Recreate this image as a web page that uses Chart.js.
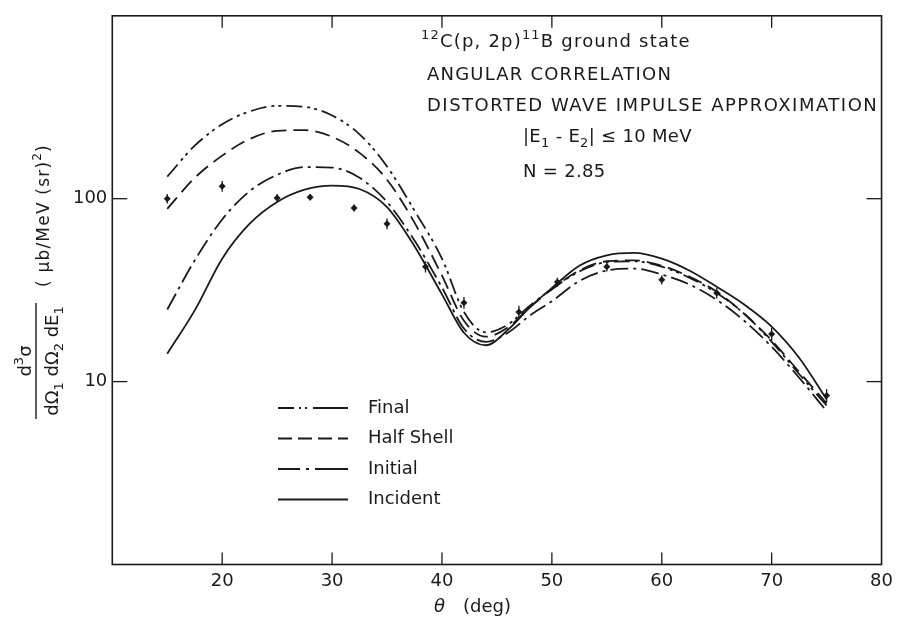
<!DOCTYPE html>
<html>
<head>
<meta charset="utf-8">
<script src="https://cdn.jsdelivr.net/npm/chart.js@4.4.1/dist/chart.umd.min.js"></script>
<style>
  html, body { margin: 0; padding: 0; background: #fff; }
  canvas { display: block; }
</style>
</head>
<body>
<canvas id="dwiaChart" width="899" height="620"></canvas>
<script>
// angles (deg) at which the DWIA curves are sampled
const thetaCurve = [15, 17.5, 20, 22.5, 25, 27.5, 30, 32.5, 35, 37.5, 40, 42, 44, 46, 48, 50, 52.5, 55, 57.5, 60, 62.5, 65, 67.5, 70, 72.5, 75];
const finalDist = [132, 195, 255, 300, 322, 318, 285, 225, 150, 86, 47, 24, 18.6, 20.5, 26, 32, 40, 45, 45.5, 42.5, 37, 30.5, 23.5, 16.5, 11, 7.4];
const halfShell = [88, 130, 172, 212, 235, 237, 218, 178, 127, 74, 38, 21.5, 17.6, 19.8, 25.5, 32, 40.5, 45.5, 46, 43, 37.5, 31, 23.5, 16.8, 11.3, 7.6];
const initialDist = [24.8, 46, 77, 110, 135, 149, 148, 130, 96, 59, 32.7, 19.5, 16.5, 18.5, 23, 27.5, 35.5, 40.5, 41.5, 38.5, 34, 28, 21.5, 15.5, 10.5, 6.9];
const incident = [14.2, 24.5, 47, 73, 96, 112, 118, 113, 90, 55, 30, 18.5, 15.8, 19.2, 25.5, 32.5, 43, 49, 50.5, 47, 40.5, 33, 26.4, 20, 13.5, 8.0];

// measured points with their errors
const thetaExp = [15, 20, 25, 28, 32, 35, 38.5, 42, 47, 50.5, 55, 60, 65, 70, 75];
const sigmaExp = [100, 117, 101, 102, 89, 73, 42.5, 27, 24, 35, 42.5, 36, 30.5, 18.2, 8.4];
const sigmaErr = [6, 8, 5, 4, 4, 5, 3, 2, 2, 2, 2.5, 2, 2, 1.5, 0.7];

const xLabels = [20, 30, 40, 50, 60, 70, 80];
const yLabels = [10, 100];

const ink = '#1a1a1a';
const FONT = '"DejaVu Sans", sans-serif';

function curve(label, ys, dash, keyDash) {
  return {
    label,
    data: thetaCurve.map((t, i) => ({ x: t, y: ys[i] })),
    borderColor: ink,
    borderWidth: 1.8,
    borderDash: dash,
    keyDash,
    pointRadius: 0,
    fill: false,
    cubicInterpolationMode: 'monotone'
  };
}

// draw text made of runs (normal / superscript / subscript), left aligned
function runsWidth(ctx, runs, size, small) {
  let w = 0;
  runs.forEach(r => {
    ctx.font = (r.sup || r.sub ? small : size) + 'px ' + FONT;
    w += ctx.measureText(r.t).width;
  });
  return w;
}
function drawRuns(ctx, runs, x, y, size, small) {
  runs.forEach(r => {
    ctx.font = (r.sup || r.sub ? small : size) + 'px ' + FONT;
    const dy = r.sup ? -size * 0.45 : r.sub ? size * 0.3 : 0;
    ctx.fillText(r.t, x, y + dy);
    x += ctx.measureText(r.t).width;
  });
}

const decorations = {
  id: 'decorations',
  afterDatasetsDraw(chart) {
    const { ctx, chartArea: a, scales: { x, y } } = chart;
    ctx.save();
    ctx.strokeStyle = ink;
    ctx.fillStyle = ink;

    // error bars on the measured points
    ctx.lineWidth = 1.3;
    thetaExp.forEach((t, i) => {
      const px = x.getPixelForValue(t);
      ctx.beginPath();
      ctx.moveTo(px, y.getPixelForValue(sigmaExp[i] - sigmaErr[i]));
      ctx.lineTo(px, y.getPixelForValue(sigmaExp[i] + sigmaErr[i]));
      ctx.stroke();
    });

    // frame
    ctx.lineWidth = 1.6;
    ctx.strokeRect(a.left, a.top, a.right - a.left, a.bottom - a.top);

    // inward tick marks on all four sides
    ctx.lineWidth = 1.3;
    const seg = (x1, y1, x2, y2) => { ctx.beginPath(); ctx.moveTo(x1, y1); ctx.lineTo(x2, y2); ctx.stroke(); };
    x.ticks.forEach(t => {
      if (t.value <= x.min || t.value >= x.max) return;
      const px = x.getPixelForValue(t.value);
      seg(px, a.bottom, px, a.bottom - 12);
      seg(px, a.top, px, a.top + 12);
    });
    y.ticks.forEach(t => {
      if (t.value <= y.min || t.value >= y.max) return;
      const py = y.getPixelForValue(t.value);
      const major = Math.abs(Math.log10(t.value) - Math.round(Math.log10(t.value))) < 1e-9;
      const len = major ? 15 : 7;
      seg(a.left, py, a.left + len, py);
      seg(a.right, py, a.right - len, py);
    });

    // legend inside the plot
    ctx.textBaseline = 'middle';
    ctx.font = '18px ' + FONT;
    chart.data.datasets.slice(0, 4).forEach((ds, i) => {
      const ly = 408 + i * 30.5;
      ctx.lineWidth = 1.8;
      ctx.setLineDash(ds.keyDash);
      seg(278, ly, 348, ly);
      ctx.setLineDash([]);
      ctx.fillText(ds.label, 368, ly);
    });

    // annotation block
    ctx.textBaseline = 'alphabetic';
    ctx.letterSpacing = '1.2px';
    drawRuns(ctx, [{ t: '12', sup: true }, { t: 'C(p, 2p)' }, { t: '11', sup: true }, { t: 'B ground state' }], 421, 47, 18, 13);
    ctx.font = '18px ' + FONT;
    ctx.fillText('ANGULAR CORRELATION', 427, 79.5);
    ctx.letterSpacing = '1.5px';
    ctx.fillText('DISTORTED WAVE IMPULSE APPROXIMATION', 427, 111);
    ctx.letterSpacing = '0.3px';
    drawRuns(ctx, [{ t: '|E' }, { t: '1', sub: true }, { t: ' - E' }, { t: '2', sub: true }, { t: '| \u2264 10 MeV' }], 523, 142, 18, 13);
    ctx.font = '18px ' + FONT;
    ctx.fillText('N = 2.85', 523, 176.5);
    ctx.letterSpacing = '0px';

    // x axis title
    ctx.font = 'italic 18px ' + FONT;
    ctx.fillText('\u03b8', 434, 612);
    ctx.font = '18px ' + FONT;
    ctx.fillText('(deg)', 463, 612);

    // y axis title: rotated fraction plus units
    ctx.save();
    ctx.translate(36, 361);
    ctx.rotate(-Math.PI / 2);
    ctx.lineWidth = 1.4;
    seg(-58, 0, 58, 0);
    const num = [{ t: 'd' }, { t: '3', sup: true }, { t: '\u03c3' }];
    const den = [{ t: 'd\u03a9' }, { t: '1', sub: true }, { t: ' d\u03a9' }, { t: '2', sub: true }, { t: ' dE' }, { t: '1', sub: true }];
    drawRuns(ctx, num, -runsWidth(ctx, num, 18, 13) / 2, -5, 18, 13);
    drawRuns(ctx, den, -runsWidth(ctx, den, 18, 13) / 2, 22, 18, 13);
    ctx.restore();

    ctx.save();
    ctx.translate(49, 287);
    ctx.rotate(-Math.PI / 2);
    ctx.letterSpacing = '1.2px';
    drawRuns(ctx, [{ t: '( \u03bcb/MeV (sr)' }, { t: '2', sup: true }, { t: ')' }], 0, 0, 17, 12);
    ctx.restore();

    ctx.restore();
  }
};

const ctx = document.getElementById('dwiaChart').getContext('2d');
new Chart(ctx, {
  type: 'line',
  data: {
    datasets: [
      curve('Final', finalDist, [16, 5, 3, 4, 3, 5], [16, 5, 2, 4, 2, 6, 40]),
      curve('Half Shell', halfShell, [15, 7], [14, 6]),
      curve('Initial', initialDist, [18, 5, 3, 5], [22, 6, 3, 6, 40]),
      curve('Incident', incident, [], []),
      {
        label: 'data',
        data: thetaExp.map((t, i) => ({ x: t, y: sigmaExp[i] })),
        showLine: false,
        pointStyle: 'rectRot',
        pointRadius: 3.5,
        backgroundColor: ink,
        borderColor: ink,
        borderWidth: 0
      }
    ]
  },
  options: {
    responsive: false,
    animation: false,
    devicePixelRatio: 1,
    layout: { padding: { left: 0, right: 13.5, top: 6.5, bottom: 0 } },
    plugins: { legend: { display: false }, tooltip: { enabled: false } },
    scales: {
      x: {
        type: 'linear',
        min: 10,
        max: 80,
        grid: { display: false, drawTicks: false },
        border: { display: false },
        afterFit: s => { s.height = 55.5; },
        ticks: {
          stepSize: 10,
          autoSkip: false,
          maxRotation: 0,
          padding: 6,
          color: ink,
          font: { family: FONT, size: 18 },
          callback: v => xLabels.includes(v) ? String(v) : null
        }
      },
      y: {
        type: 'logarithmic',
        min: 1,
        max: 1000,
        grid: { display: false, drawTicks: false },
        border: { display: false },
        afterFit: s => { s.width = 112.3; },
        ticks: {
          autoSkip: false,
          padding: 5,
          color: ink,
          font: { family: FONT, size: 18 },
          callback: v => yLabels.includes(v) ? String(v) : null
        }
      }
    }
  },
  plugins: [decorations]
});
</script>
</body>
</html>
